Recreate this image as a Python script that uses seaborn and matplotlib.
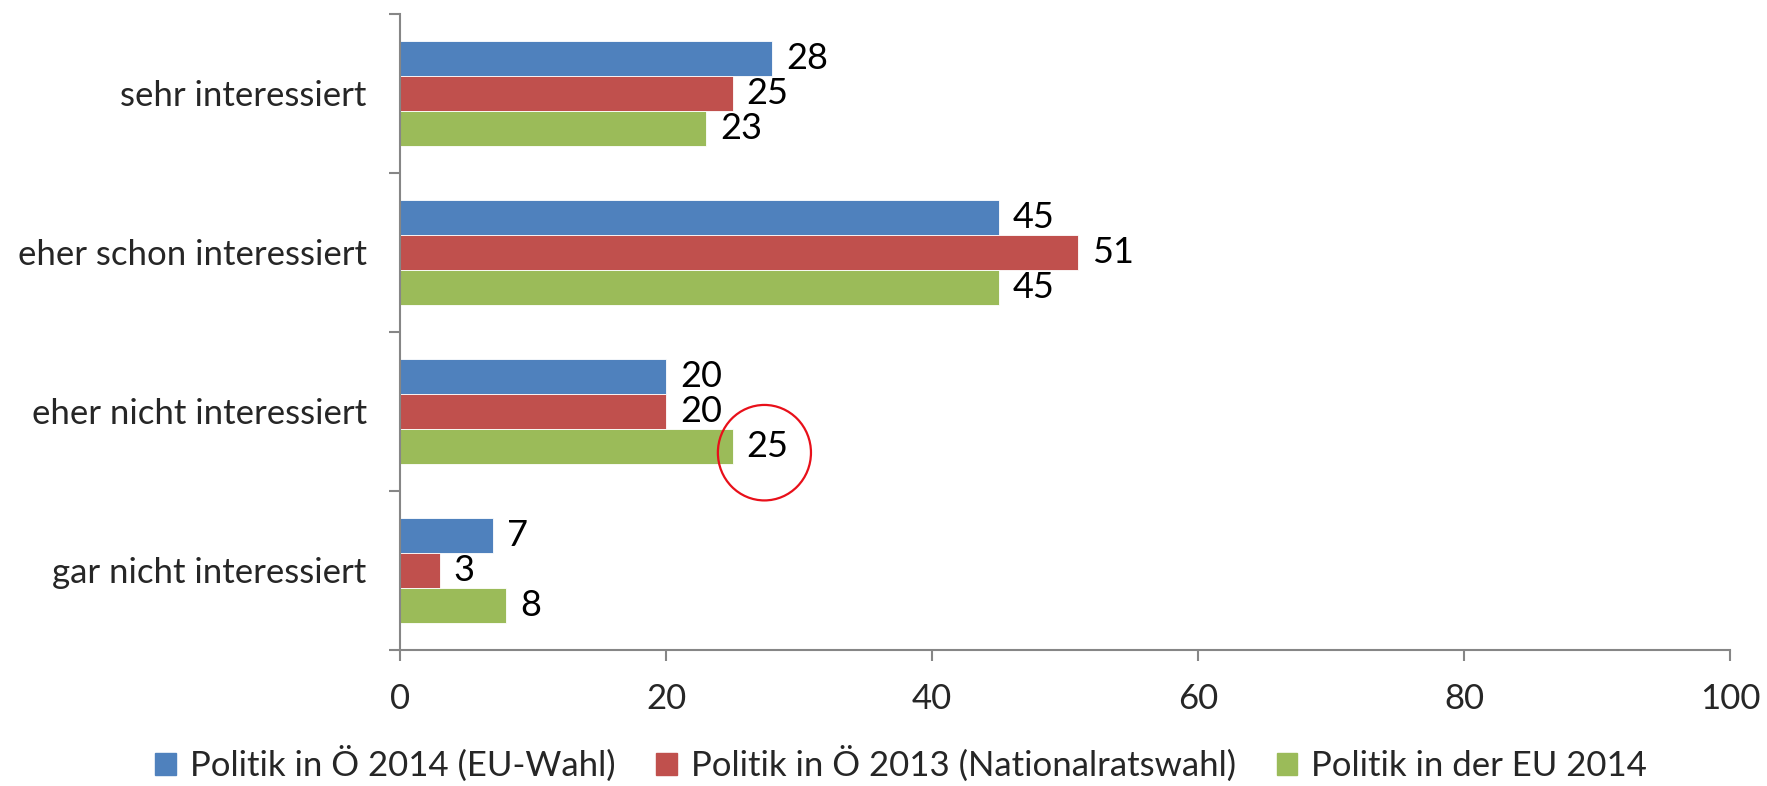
import matplotlib
matplotlib.use("Agg")
import matplotlib.pyplot as plt
import seaborn as sns
import pandas as pd
from matplotlib.patches import Ellipse

categories = ["sehr interessiert", "eher schon interessiert", "eher nicht interessiert", "gar nicht interessiert"]
series = ["Politik in Ö 2014 (EU-Wahl)", "Politik in Ö 2013 (Nationalratswahl)", "Politik in der EU 2014"]
vals_eu2014 = [28, 45, 20, 7]
vals_nr2013 = [25, 51, 20, 3]
vals_eu_pol = [23, 45, 25, 8]
colors = ["#4F81BD", "#C0504D", "#9BBB59"]
xticks = [0, 20, 40, 60, 80, 100]

sns.set_theme(style="white")
plt.rcParams["font.family"] = ["Lato", "DejaVu Sans"]
FS = 25

rows = []
for s, vals in zip(series, [vals_eu2014, vals_nr2013, vals_eu_pol]):
    for c, v in zip(categories, vals):
        rows.append({"cat": c, "series": s, "val": v})
df = pd.DataFrame(rows)

fig = plt.figure(figsize=(17.67, 7.86), dpi=100)
ax = fig.add_axes([400/1767, 1-650/786, 1330/1767, (650-13.5)/786])
sns.barplot(data=df, y="cat", x="val", hue="series", order=categories, hue_order=series,
            palette=colors, orient="h", width=0.66, gap=0, ax=ax, legend=False,
            edgecolor="white", linewidth=0.6, saturation=1)

for cont in ax.containers:
    ax.bar_label(cont, padding=10, fontsize=FS + 1, color="black")

ax.set_xlim(0, 100)
ax.set_ylim(3.5, -0.5)
ax.set_xticks(xticks)
ax.set_xticklabels([str(t) for t in xticks], fontsize=FS)
ax.set_yticks(range(len(categories)))
ax.set_yticklabels(categories, fontsize=FS)
ax.set_yticks([i - 0.5 for i in range(len(categories) + 1)], minor=True)
ax.tick_params(axis="y", which="major", length=0, pad=24)
ax.tick_params(axis="y", which="minor", length=8, width=1.5, color="#868686", left=True)
ax.tick_params(axis="x", which="major", length=8, width=1.5, color="#868686", bottom=True, pad=16)
ax.set_xlabel("")
ax.set_ylabel("")
for side in ["top", "right"]:
    ax.spines[side].set_visible(False)
for side in ["left", "bottom"]:
    ax.spines[side].set_color("#868686")
    ax.spines[side].set_linewidth(1.5)

# red hand-drawn highlight circle around the "25" label
ell = Ellipse((vals_eu_pol[2] + 2.4, 2.26), width=7.0, height=0.6, fill=False,
              edgecolor="#E8101A", linewidth=1.6, clip_on=False)
ax.add_patch(ell)

handles = [plt.Rectangle((0, 0), 1, 1, color=c) for c in colors]
fig.legend(handles, series, loc="center", bbox_to_anchor=(0.51, 1-764/786), ncol=3,
           frameon=False, fontsize=FS, handlelength=0.6, handleheight=0.6,
           handletextpad=0.4, columnspacing=1.17)

fig.savefig("out.png", dpi=100)
